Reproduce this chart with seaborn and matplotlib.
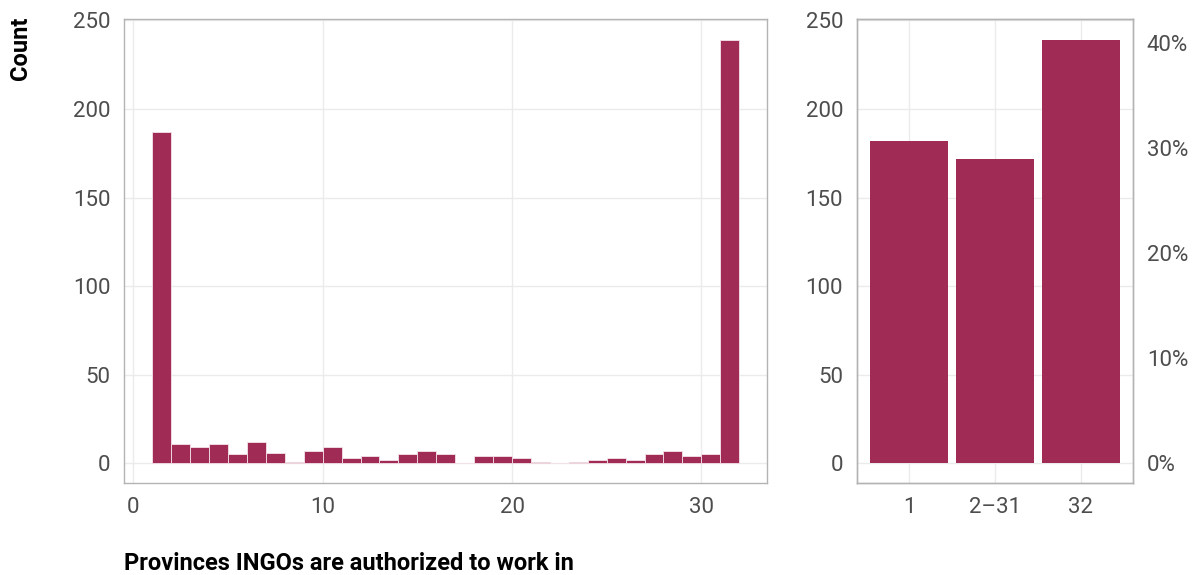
import numpy as np
import pandas as pd
import matplotlib
matplotlib.use("Agg")
import matplotlib.pyplot as plt
import seaborn as sns

# ---- data ----
provinces = list(range(1, 32))  # left edges of 31 bins spanning 1..32
counts = [187, 11, 9, 11, 5, 12, 6, 1, 7, 9, 3, 4, 2, 5, 7, 5, 0, 4, 4, 3,
          1, 0, 1, 2, 3, 2, 5, 7, 4, 5, 239]
group_labels = ["1", "2\u201331", "32"]
group_counts = [182, 172, 239]
pct_ticks = [0, 10, 20, 30, 40]
count_ticks = [0, 50, 100, 150, 200, 250]
x_ticks = [0, 10, 20, 30]

BAR = "#A02B54"
TICK_C = "#4D4D4D"
SPINE_C = "#B3B3B3"
GRID_C = "#EBEBEB"

sns.set_theme(style="white")
plt.rcParams["font.family"] = ["Roboto", "DejaVu Sans"]

fig = plt.figure(figsize=(12.03, 5.75), dpi=100)
ax1 = fig.add_axes([124.3 / 1203, 1 - 483.3 / 575, (767 - 124.3) / 1203, (483.3 - 18.7) / 575])
ax2 = fig.add_axes([857 / 1203, 1 - 483.3 / 575, 276 / 1203, (483.3 - 18.7) / 575])

ylim = (-11.3, 251.0)

# left histogram
hist_df = pd.DataFrame({"province": [p + 0.5 for p in provinces], "n": counts})
sns.histplot(data=hist_df, x="province", weights="n", bins=31, binrange=(1, 32), ax=ax1,
             color=BAR, alpha=1, edgecolor="#F3E3E8", linewidth=0.6)
ax1.set_xlim(-0.48, 33.47)
ax1.set_ylim(*ylim)
ax1.set_xticks(x_ticks)
ax1.set_yticks(count_ticks)

# right grouped bars
sns.barplot(x=group_labels, y=group_counts, ax=ax2, color=BAR, width=0.9,
            saturation=1, edgecolor="none")
ax2.set_xlim(-0.605, 2.605)
ax2.set_ylim(*ylim)
ax2.set_yticks(count_ticks)

total = sum(group_counts)
ax3 = ax2.twinx()
ax3.set_ylim(ylim[0] / total * 100, ylim[1] / total * 100)
ax3.set_yticks(pct_ticks)
ax3.set_yticklabels([f"{p}%" for p in pct_ticks])

for ax in (ax1, ax2, ax3):
    ax.set_xlabel("")
    ax.set_ylabel("")
    for s in ax.spines.values():
        s.set_color(SPINE_C)
        s.set_linewidth(1.0)
    ax.tick_params(axis="both", length=0, labelsize=16, labelcolor=TICK_C, pad=10)

for ax in (ax1, ax2):
    ax.set_axisbelow(True)
    ax.grid(True, color=GRID_C, linewidth=1.0)

fig.text(20 / 1203, 1 - 48.5 / 575, "Count", rotation=90, ha="center", va="center",
         fontsize=17, fontweight="bold", color="black")
fig.text(124 / 1203, 1 - 563 / 575, "Provinces INGOs are authorized to work in",
         ha="left", va="center", fontsize=17, fontweight="bold", color="black")

fig.savefig("out.png", dpi=100, facecolor="white")
